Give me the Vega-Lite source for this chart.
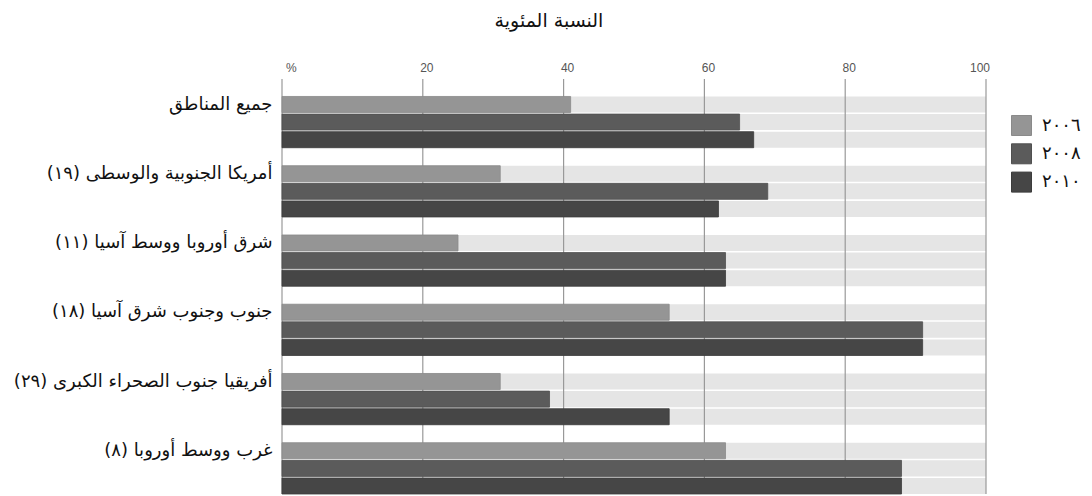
{
  "$schema": "https://vega.github.io/schema/vega-lite/v6.json",
  "autosize": "none",
  "width": 704,
  "height": 415,
  "padding": {"left": 282, "top": 79, "right": 106, "bottom": 2},
  "background": "white",
  "title": {
    "text": "النسبة المئوية",
    "anchor": "middle",
    "frame": "group",
    "dx": -85,
    "offset": 30,
    "font": "DejaVu Sans",
    "fontSize": 19,
    "fontWeight": "normal",
    "color": "#111111"
  },
  "config": {
    "view": {"stroke": null},
    "axis": {"grid": false, "ticks": false, "domain": false}
  },
  "data": {
    "values": [
      {"region": "جميع المناطق\u200f", "year": "٢٠٠٦", "value": 41},
      {"region": "جميع المناطق\u200f", "year": "٢٠٠٨", "value": 65},
      {"region": "جميع المناطق\u200f", "year": "٢٠١٠", "value": 67},
      {"region": "أمريكا الجنوبية والوسطى (١٩)\u200f", "year": "٢٠٠٦", "value": 31},
      {"region": "أمريكا الجنوبية والوسطى (١٩)\u200f", "year": "٢٠٠٨", "value": 69},
      {"region": "أمريكا الجنوبية والوسطى (١٩)\u200f", "year": "٢٠١٠", "value": 62},
      {"region": "شرق أوروبا ووسط آسيا (١١)\u200f", "year": "٢٠٠٦", "value": 25},
      {"region": "شرق أوروبا ووسط آسيا (١١)\u200f", "year": "٢٠٠٨", "value": 63},
      {"region": "شرق أوروبا ووسط آسيا (١١)\u200f", "year": "٢٠١٠", "value": 63},
      {"region": "جنوب وجنوب شرق آسيا (١٨)\u200f", "year": "٢٠٠٦", "value": 55},
      {"region": "جنوب وجنوب شرق آسيا (١٨)\u200f", "year": "٢٠٠٨", "value": 91},
      {"region": "جنوب وجنوب شرق آسيا (١٨)\u200f", "year": "٢٠١٠", "value": 91},
      {"region": "أفريقيا جنوب الصحراء الكبرى (٢٩)\u200f", "year": "٢٠٠٦", "value": 31},
      {"region": "أفريقيا جنوب الصحراء الكبرى (٢٩)\u200f", "year": "٢٠٠٨", "value": 38},
      {"region": "أفريقيا جنوب الصحراء الكبرى (٢٩)\u200f", "year": "٢٠١٠", "value": 55},
      {"region": "غرب ووسط أوروبا (٨)\u200f", "year": "٢٠٠٦", "value": 63},
      {"region": "غرب ووسط أوروبا (٨)\u200f", "year": "٢٠٠٨", "value": 88},
      {"region": "غرب ووسط أوروبا (٨)\u200f", "year": "٢٠١٠", "value": 88}
    ]
  },
  "encoding": {
    "y": {
      "field": "region",
      "type": "nominal",
      "sort": null,
      "title": null,
      "scale": {"paddingInner": 0.26, "paddingOuter": 0.126, "align": 1},
      "axis": {
        "orient": "left",
        "labelFont": "DejaVu Sans",
        "labelFontSize": 18,
        "labelColor": "#111111",
        "labelPadding": 10,
        "labelOffset": -17.5,
        "labelLimit": 300
      }
    },
    "yOffset": {
      "field": "year",
      "type": "nominal",
      "scale": {"domain": ["٢٠٠٦", "٢٠٠٨", "٢٠١٠"], "paddingInner": 0.09, "paddingOuter": 0}
    }
  },
  "layer": [
    {
      "mark": {"type": "bar", "color": "#e5e5e5"},
      "encoding": {
        "x": {
          "datum": 100,
          "type": "quantitative",
          "scale": {"domain": [0, 100]},
          "axis": {
            "orient": "top",
            "title": null,
            "values": [0, 20, 40, 60, 80, 100],
            "labelExpr": "datum.value == 0 ? '%' : datum.label",
            "labelFont": "Liberation Sans",
            "labelFontSize": 12,
            "labelColor": "#555555",
            "labelPadding": 5,
            "labelOffset": 3.5
          }
        }
      }
    },
    {
      "data": {"values": [{"tick": 0}, {"tick": 20}, {"tick": 40}, {"tick": 60}, {"tick": 80}, {"tick": 100}]},
      "mark": {"type": "rule", "color": "#999999", "strokeWidth": 1.2},
      "encoding": {
        "x": {"field": "tick", "type": "quantitative"},
        "y": null,
        "yOffset": null
      }
    },
    {
      "mark": {"type": "bar", "strokeWidth": 0.8},
      "encoding": {
        "x": {"field": "value", "type": "quantitative"},
        "color": {
          "field": "year",
          "type": "nominal",
          "scale": {"domain": ["٢٠٠٦", "٢٠٠٨", "٢٠١٠"], "range": ["#959595", "#5b5b5b", "#464646"]},
          "legend": {
            "title": null,
            "orient": "none",
            "legendX": 729,
            "legendY": 36,
            "symbolType": "square",
            "symbolSize": 400,
            "symbolStrokeWidth": 1,
            "labelFont": "DejaVu Sans",
            "labelFontSize": 18,
            "labelColor": "#111111",
            "labelOffset": 10,
            "rowPadding": 3.3
          }
        },
        "stroke": {
          "field": "year",
          "type": "nominal",
          "scale": {"domain": ["٢٠٠٦", "٢٠٠٨", "٢٠١٠"], "range": ["#8a8a8a", "#505050", "#3c3c3c"]},
          "legend": null
        }
      }
    }
  ]
}
